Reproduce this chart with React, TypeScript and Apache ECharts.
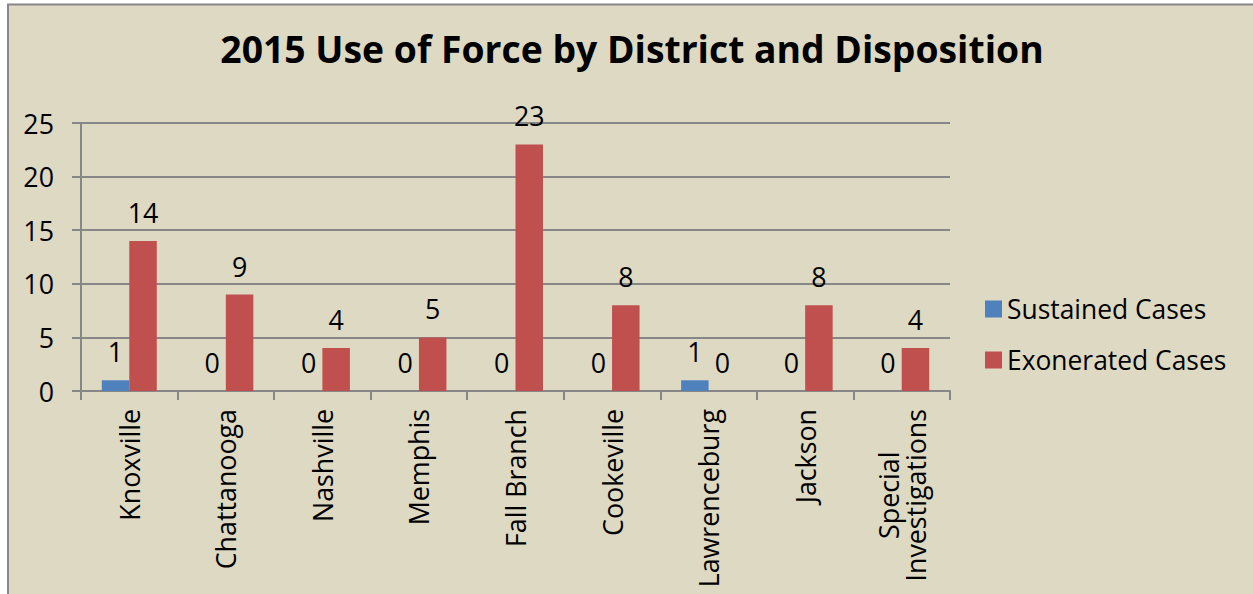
import React, { useEffect, useRef } from "react";
import * as echarts from "echarts";

const districts = [
  "Knoxville",
  "Chattanooga",
  "Nashville",
  "Memphis",
  "Fall Branch",
  "Cookeville",
  "Lawrenceburg",
  "Jackson",
  "Special\nInvestigations",
];
const sustainedCases = [1, 0, 0, 0, 0, 0, 1, 0, 0];
const exoneratedCases = [14, 9, 4, 5, 23, 8, 0, 8, 4];
const yTicks = [0, 5, 10, 15, 20, 25];

const FONT = "'Open Sans', 'DejaVu Sans', sans-serif";
const GRAY = "#878787";
const FS = 26.8;

export default function App() {
  const ref = useRef<HTMLDivElement>(null);
  useEffect(() => {
    if (!ref.current) return;
    const chart = echarts.init(ref.current, undefined, { renderer: "svg" });
    const labelStyle = {
      show: true,
      position: "top" as const,
      distance: 15,
      color: "#000",
      fontSize: FS,
      fontFamily: FONT,
    };
    chart.setOption({
      animation: false,
      backgroundColor: "transparent",
      textStyle: { fontFamily: FONT },
      graphic: [
        {
          type: "rect",
          z: -10,
          silent: true,
          shape: { x: 8, y: 4.5, width: 1400, height: 800 },
          style: { fill: "#DDD9C3", stroke: GRAY, lineWidth: 2 },
        },
      ],
      title: {
        text: "2015 Use of Force by District and Disposition",
        left: 627,
        textAlign: "center",
        top: 25,
        textStyle: {
          fontFamily: FONT,
          fontWeight: "bold",
          fontSize: 37.3,
          color: "#000",
        },
      },
      legend: {
        orient: "vertical",
        left: 980,
        top: 291,
        itemWidth: 17,
        itemHeight: 17,
        itemGap: 25,
        icon: "rect",
        textStyle: { fontFamily: FONT, fontSize: 26.4, color: "#000" },
        data: ["Sustained Cases", "Exonerated Cases"],
      },
      grid: { left: 81, top: 123, right: 303, bottom: 203, containLabel: false },
      xAxis: {
        type: "category",
        data: districts,
        boundaryGap: true,
        axisLine: { show: true, lineStyle: { color: GRAY, width: 2 } },
        axisTick: { show: true, length: 9, alignWithLabel: false, lineStyle: { color: GRAY, width: 2 } },
        axisLabel: {
          rotate: 90,
          margin: 18,
          interval: 0,
          color: "#000",
          fontSize: FS,
          fontFamily: FONT,
          formatter: (v: string) =>
            v
              .split("\n")
              .map((s) => "{c|" + s + "}")
              .join("\n"),
          rich: { c: { align: "center", fontSize: FS, fontFamily: FONT, color: "#000" } },
        },
        splitLine: { show: false },
      },
      yAxis: {
        type: "value",
        min: yTicks[0],
        max: yTicks[yTicks.length - 1],
        interval: 5,
        axisLine: { show: true, lineStyle: { color: GRAY, width: 2 } },
        axisTick: { show: true, length: 9, lineStyle: { color: GRAY, width: 2 } },
        axisLabel: { margin: 27, color: "#000", fontSize: FS, fontFamily: FONT },
        splitLine: { show: true, lineStyle: { color: GRAY, width: 2 } },
      },
      series: [
        {
          name: "Sustained Cases",
          type: "bar",
          data: sustainedCases,
          barWidth: 27.5,
          barGap: "0%",
          itemStyle: { color: "#4F81BD" },
          label: labelStyle,
        },
        {
          name: "Exonerated Cases",
          type: "bar",
          data: exoneratedCases,
          barWidth: 27.5,
          barGap: "0%",
          itemStyle: { color: "#C0504D" },
          label: labelStyle,
        },
      ],
    });
    return () => chart.dispose();
  }, []);
  return (
    <div
      ref={ref}
      style={{ position: "absolute", left: 0, top: 0, width: 1253, height: 594 }}
    />
  );
}
